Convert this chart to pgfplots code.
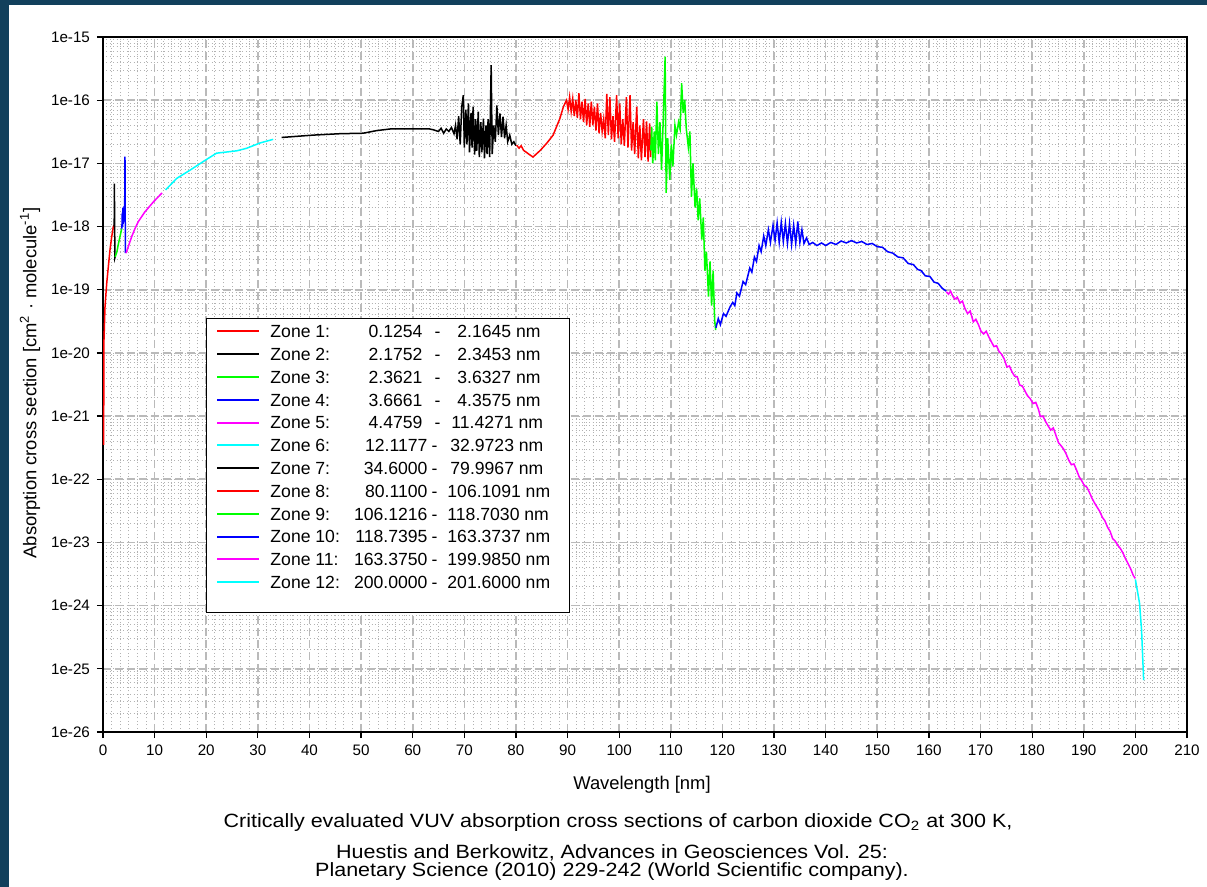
\documentclass[border=0pt]{standalone}
\usepackage{pgfplots}
\pgfplotsset{compat=1.18}
\usepackage{fontspec}
\setmainfont{Liberation Sans}
\definecolor{framec}{HTML}{12405C}
\definecolor{zred}{HTML}{FF0000}
\definecolor{zgreen}{HTML}{00FF00}
\definecolor{zblue}{HTML}{0000FF}
\definecolor{zmag}{HTML}{FF00FF}
\definecolor{zcyan}{HTML}{00FFFF}
\newcommand{\ze}[6]{\makebox[144.5pt][l]{\rlap{Zone #1:}\rlap{\hspace{#3}\llap{#2}}\rlap{\hspace{#4}\makebox[0pt]{-}}\hspace{#5}#6 nm}}
\newcommand{\capt}[1]{\scalebox{1.12}[1]{\fontsize{9.6}{11}\selectfont #1}}
\begin{document}
\begin{tikzpicture}
\fill[framec] (-51.5pt,-77.5pt) rectangle (552pt,366pt);
\fill[white] (-47pt,-77.5pt) rectangle (552pt,363.5pt);
\begin{axis}[
  at={(0pt,0pt)}, anchor=south west,
  scale only axis, width=542pt, height=347.5pt,
  xmin=0, xmax=210, ymode=log, ymin=1e-26, ymax=1e-15,
  xtick={0,10,...,210},
  xticklabels={0,10,20,30,40,50,60,70,80,90,100,110,120,130,140,150,160,170,180,190,200,210},
  ytickten={-26,-25,...,-15},
  yticklabels={1e-26,1e-25,1e-24,1e-23,1e-22,1e-21,1e-20,1e-19,1e-18,1e-17,1e-16,1e-15},
  xtick pos=left, ytick pos=left,
  tick align=outside, major tick length=3pt, minor tick length=0pt,
  minor x tick num=5,
  xmajorgrids, ymajorgrids, xminorgrids, yminorgrids,
  major grid style={black!27, dash pattern=on 4pt off 2pt, line width=0.8pt},
  minor grid style={black!30, dash pattern=on 0.5pt off 1.2pt, line width=0.4pt},
  axis line style={line width=0.6pt},
  tick style={black, line width=0.6pt},
  ticklabel style={font=\fontsize{7.6}{9}\selectfont},
  legend cell align=left,
  legend style={at={(0.095,0.5957)}, anchor=north west, draw=black, line width=0.5pt, fill=white,
    font=\fontsize{8.8}{10}\selectfont, inner xsep=5pt, inner ysep=0.8pt, row sep=0pt,
    nodes={inner sep=0pt, text height=8.8pt, text depth=2.6pt}, /tikz/column 1/.style={column sep=5pt}},
  legend image code/.code={\draw[#1, line width=1pt] (0pt,0pt) -- (21pt,0pt);},
  every axis plot/.append style={line width=0.75pt, mark=none},
]
% Zone 1
\addplot[zred] coordinates {(0.1254,3.5e-22) (0.14,1e-21) (0.16,4e-21) (0.19,1.6e-20) (0.39,5.4e-20) (0.72,1.26e-19) (1.03,2.3e-19) (1.36,4.3e-19) (1.69,6.9e-19) (2.0,1e-18) (2.1645,1.05e-18)};
\addlegendentry{\ze{1}{0.1254}{76pt}{83.5pt}{93.5pt}{2.1645}}
% Zone 2
\addplot[black] coordinates {(2.1752,1e-18) (2.2,4.8e-18) (2.26,1.2e-18) (2.3,3.2e-19) (2.3453,3.3e-19)};
\addlegendentry{\ze{2}{2.1752}{76pt}{83.5pt}{93.5pt}{2.3453}}
% Zone 3
\addplot[zgreen] coordinates {(2.3621,3.3e-19) (2.7,4e-19) (3.0,5.4e-19) (3.3,7e-19) (3.6327,9.3e-19)};
\addlegendentry{\ze{3}{2.3621}{76pt}{83.5pt}{93.5pt}{3.6327}}
% Zone 4
\addplot[zblue] coordinates {(3.6661,9.3e-19) (3.72,1.6e-18) (3.78,1e-18) (3.84,2e-18) (3.9,1.1e-18) (3.96,2e-18) (4.02,1.2e-18) (4.08,2.1e-18) (4.14,1.3e-18) (4.2,1.8e-18) (4.26,1.28e-17) (4.3,1.5e-18) (4.3575,3.8e-19)};
\addlegendentry{\ze{4}{3.6661}{76pt}{83.5pt}{93.5pt}{4.3575}}
% Zone 5
\addplot[zmag] coordinates {(4.4759,3.8e-19) (4.9,4.8e-19) (5.55,6.9e-19) (6.2,9.3e-19) (6.85,1.2e-18) (8.1,1.7e-18) (9.75,2.45e-18) (11.4271,3.4e-18)};
\addlegendentry{\ze{5}{4.4759}{76pt}{83.5pt}{90.5pt}{11.4271}}
% Zone 6
\addplot[zcyan] coordinates {(12.1177,3.8e-18) (14.3,5.8e-18) (16.85,7.8e-18) (19.8,1.12e-17) (22.0,1.45e-17) (25.9,1.58e-17) (27.8,1.73e-17) (30.4,2.1e-17) (32.9723,2.4e-17)};
\addlegendentry{\ze{6}{12.1177}{78.5pt}{82pt}{90pt}{32.9723}}
% Zone 7
\addplot[black] coordinates {(34.6,2.57e-17) (40.7,2.8e-17) (46,2.95e-17) (50.4,3.0e-17) (53,3.3e-17) (55.6,3.5e-17) (63.3,3.5e-17)
 (64.0,3.4e-17) (65.0,3.2e-17) (65.5,3.6e-17) (66.0,3.0e-17) (66.5,3.5e-17) (67.0,3.2e-17) (67.5,3.7e-17) (68.0,2.95e-17)
 (68.3,4.0e-17) (68.6,2.4e-17) (68.9,5.6e-17) (69.2,2.0e-17) (69.5,7.9e-17) (69.8,1.2e-16) (70.0,1.78e-17) (70.3,7.1e-17)
 (70.5,2.0e-17) (70.8,8.9e-17) (71.0,1.5e-17) (71.3,6.3e-17) (71.5,1.78e-17) (71.7,7.9e-17) (72.0,1.38e-17) (72.2,5.0e-17)
 (72.4,1.58e-17) (72.7,6.6e-17) (72.9,1.26e-17) (73.2,4.5e-17) (73.4,1.5e-17) (73.7,5.1e-17) (73.9,1.2e-17) (74.2,4.0e-17)
 (74.4,1.4e-17) (74.6,5.0e-17) (74.9,1.26e-17) (75.2,3.6e-16) (75.4,1.4e-17) (75.7,4.0e-17) (76.0,2.2e-17) (76.3,8.3e-17)
 (76.6,2.8e-17) (76.9,6.2e-17) (77.2,2.6e-17) (77.5,5.5e-17) (77.8,2.5e-17) (78.1,4.0e-17) (78.4,2.2e-17) (78.8,2.8e-17)
 (79.2,2.0e-17) (79.6,2.2e-17) (79.9967,1.9e-17)};
\addlegendentry{\ze{7}{34.6000}{78.5pt}{82pt}{90pt}{79.9967}}
% Zone 8
\addplot[zred] coordinates {(80.11,1.95e-17) (80.6,1.74e-17) (81.0,1.9e-17) (81.5,1.6e-17) (82.0,1.5e-17) (82.6,1.38e-17) (83.3,1.26e-17)
 (84.7,1.6e-17) (86.0,2.1e-17) (87.2,2.8e-17) (88.5,5.1e-17) (89.2,7.9e-17) (89.8,1.0e-16)
 (90.1,7.1e-17) (90.4,1.12e-16) (90.7,6.6e-17) (91.0,1.05e-16) (91.3,5.6e-17) (91.6,1.0e-16) (91.9,5.2e-17) (92.2,1.29e-16)
 (92.5,5.0e-17) (92.8,9.5e-17) (93.1,4.5e-17) (93.4,1.05e-16) (93.7,4.0e-17) (94.0,8.9e-17) (94.3,3.8e-17) (94.6,9.5e-17)
 (94.9,4.0e-17) (95.2,7.9e-17) (95.5,3.3e-17) (95.8,8.9e-17) (96.1,3.0e-17) (96.4,6.3e-17) (96.7,3.2e-17) (97.0,5.0e-17)
 (97.3,2.5e-17) (97.6,1.26e-16) (97.9,2.8e-17) (98.2,1.12e-16) (98.5,2.4e-17) (98.8,5.6e-17) (99.1,2.2e-17) (99.5,1.2e-16)
 (99.8,2.5e-17) (100.1,8.9e-17) (100.4,2.0e-17) (100.7,5.0e-17) (101.0,1.9e-17) (101.4,1.12e-16) (101.7,1.78e-17) (102.1,1.2e-16)
 (102.4,1.6e-17) (102.7,4.5e-17) (103.0,1.4e-17) (103.4,7.9e-17) (103.7,1.2e-17) (104.0,4.0e-17) (104.3,1.12e-17) (104.7,5.0e-17)
 (105.0,1.26e-17) (105.3,4.6e-17) (105.6,1.07e-17) (105.9,4.3e-17) (106.1091,1.26e-17)};
\addlegendentry{\ze{8}{80.1100}{78.5pt}{82pt}{88.5pt}{106.1091}}
% Zone 9
\addplot[zgreen] coordinates {(106.1216,1.6e-17) (106.3,3.8e-17) (106.5,1.0e-17) (106.8,3.2e-17) (107.0,1.12e-17) (107.3,9.5e-17)
 (107.6,1.4e-17) (107.9,4.5e-17) (108.2,7.9e-18) (108.5,4.0e-17) (108.9,4.9e-16) (109.1,3.4e-18) (109.4,2.5e-17) (109.8,5.5e-18)
 (110.1,2.0e-17) (110.4,8.9e-18) (110.8,4.0e-17) (111.1,2.8e-17) (111.5,4.5e-17) (111.8,3.5e-17) (112.1,1.86e-16) (112.4,6.3e-17)
 (112.7,1.0e-16) (113.0,3.5e-17) (113.4,1.8e-17) (113.7,3.2e-17) (114.0,2.95e-18) (114.3,1.0e-17) (114.7,2.0e-18) (115.0,4.0e-18)
 (115.3,1.26e-18) (115.6,2.8e-18) (116.0,6.2e-19) (116.3,1.4e-18) (116.6,2.0e-19) (116.9,4.0e-19) (117.3,7.8e-20) (117.6,2.8e-19)
 (117.9,5.6e-20) (118.2,2.0e-19) (118.5,3.2e-20) (118.703,2.3e-20)};
\addlegendentry{\ze{9}{106.1216}{78.5pt}{82pt}{88.5pt}{118.7030}}
% Zone 10
\addplot[zblue] coordinates {(118.7395,2.5e-20) (119.2,3.5e-20) (119.6,2.8e-20) (120.2,4.2e-20) (120.7,3.8e-20) (121.5,5.4e-20) (122.0,6.3e-20)
 (122.4,5.6e-20) (122.8,8.9e-20) (123.3,7.9e-20) (124.0,1.35e-19) (124.5,1.2e-19) (125.3,2.2e-19) (125.7,1.9e-19) (126.2,3.3e-19)
 (126.6,2.8e-19) (127.1,5.0e-19) (127.5,4.0e-19) (128.0,7.1e-19) (128.4,5.0e-19) (128.9,8.9e-19) (129.3,5.6e-19) (129.8,1.05e-18)
 (130.2,6.0e-19) (130.6,1.15e-18) (131.0,5.6e-19) (131.4,1.17e-18) (131.8,5.8e-19) (132.2,1.12e-18) (132.6,5.4e-19) (133.0,1.12e-18)
 (133.4,5.2e-19) (133.8,1.05e-18) (134.2,5.4e-19) (134.6,1.2e-18) (135.0,5.6e-19) (135.4,8.9e-19) (135.8,5.4e-19) (136.3,6.6e-19)
 (136.8,5.2e-19) (137.5,5.6e-19) (138.3,5.0e-19) (139.2,5.5e-19) (140.0,5.0e-19) (141.0,5.6e-19) (142.0,5.2e-19) (143.0,5.9e-19)
 (144.0,5.5e-19) (145.0,6.0e-19) (146.0,5.5e-19) (147.0,5.8e-19) (148.0,5.2e-19) (149.0,5.4e-19) (150.0,4.8e-19) (151.0,4.7e-19)
 (152.0,4.0e-19) (153.0,3.8e-19) (154.0,3.3e-19) (155.0,3.2e-19) (156.0,2.6e-19) (157.0,2.5e-19) (157.8,2.1e-19) (158.5,2.0e-19)
 (159.3,1.66e-19) (160.2,1.62e-19) (161.0,1.32e-19) (161.8,1.26e-19) (162.6,1.05e-19) (163.3737,9.5e-20)};
\addlegendentry{\ze{10}{118.7395}{78.5pt}{82pt}{88.5pt}{163.3737}}
% Zone 11
\addplot[zmag] coordinates {(163.375,9.3e-20) (163.8,8.5e-20) (164.2,9.5e-20) (164.6,8.0e-20) (165.0,7.1e-20) (165.5,7.6e-20) (166.0,6.2e-20)
 (166.5,6.6e-20) (167.0,5.0e-20) (167.5,4.2e-20) (168.0,4.6e-20) (168.6,3.1e-20) (169.1,3.4e-20) (169.6,2.8e-20) (170.1,2.2e-20)
 (170.6,2.0e-20) (171.1,2.2e-20) (171.6,1.8e-20) (172.1,1.5e-20) (172.6,1.26e-20) (173.1,1.3e-20) (173.6,1.05e-20) (174.1,9.5e-21)
 (174.6,8.0e-21) (175.1,6.0e-21) (175.6,6.2e-21) (176.1,5.0e-21) (176.6,4.3e-21) (177.1,4.2e-21) (177.6,3.1e-21) (178.1,3.0e-21)
 (178.6,2.5e-21) (179.1,2.1e-21) (179.6,1.9e-21) (180.2,1.58e-21) (180.7,1.65e-21) (181.2,1.3e-21) (181.6,9.8e-22) (182.1,1.0e-21)
 (182.6,8.2e-22) (183.1,7.0e-22) (183.6,6.0e-22) (184.1,6.5e-22) (184.6,5.0e-22) (185.1,3.8e-22) (185.6,3.4e-22) (186.1,3.0e-22)
 (186.6,2.5e-22) (187.1,2.0e-22) (187.6,1.7e-22) (188.1,1.75e-22) (188.6,1.4e-22) (189.1,1.1e-22) (189.6,9.5e-23) (190.1,8.0e-23)
 (190.6,7.5e-23) (191.1,6.2e-23) (191.6,5.0e-23) (192.1,4.2e-23) (192.6,3.6e-23) (193.1,3.1e-23) (193.6,2.5e-23) (194.1,2.2e-23)
 (194.6,1.75e-23) (195.1,1.5e-23) (195.6,1.15e-23) (196.1,1.05e-23) (196.6,9.0e-24) (197.1,8.0e-24) (197.6,6.8e-24) (198.1,5.5e-24)
 (198.6,4.6e-24) (199.1,3.8e-24) (199.6,3.0e-24) (199.985,2.7e-24)};
\addlegendentry{\ze{11}{163.3750}{78.5pt}{82pt}{88.5pt}{199.9850}}
% Zone 12
\addplot[zcyan] coordinates {(200.0,2.6e-24) (200.8,1.1e-24) (201.2,4.1e-25) (201.6,6.6e-26)};
\addlegendentry{\ze{12}{200.0000}{78.5pt}{82pt}{88.5pt}{201.6000}}
\addlegendimage{empty legend}
\addlegendentry[text height=8.4pt, text depth=0pt]{}
\end{axis}
\node[rotate=90, font=\fontsize{9.2}{11}\selectfont] at (-36.5pt,174.5pt) {Absorption cross section [cm\textsuperscript{2} · molecule\textsuperscript{-1}]};
\node[font=\fontsize{9.2}{11}\selectfont] at (269.5pt,-26.5pt) {Wavelength [nm]};
\node at (257.5pt,-45.5pt) {\capt{Critically evaluated VUV absorption cross sections of carbon dioxide CO\textsubscript{2} at 300 K,}};
\node at (254.5pt,-60.5pt) {\capt{Huestis and Berkowitz, Advances in Geosciences Vol. 25:}};
\node at (254.5pt,-70pt) {\capt{Planetary Science (2010) 229-242 (World Scientific company).}};
\pgfresetboundingbox
\useasboundingbox (-51.5pt,-77.5pt) rectangle (552pt,366pt);
\end{tikzpicture}
\end{document}
